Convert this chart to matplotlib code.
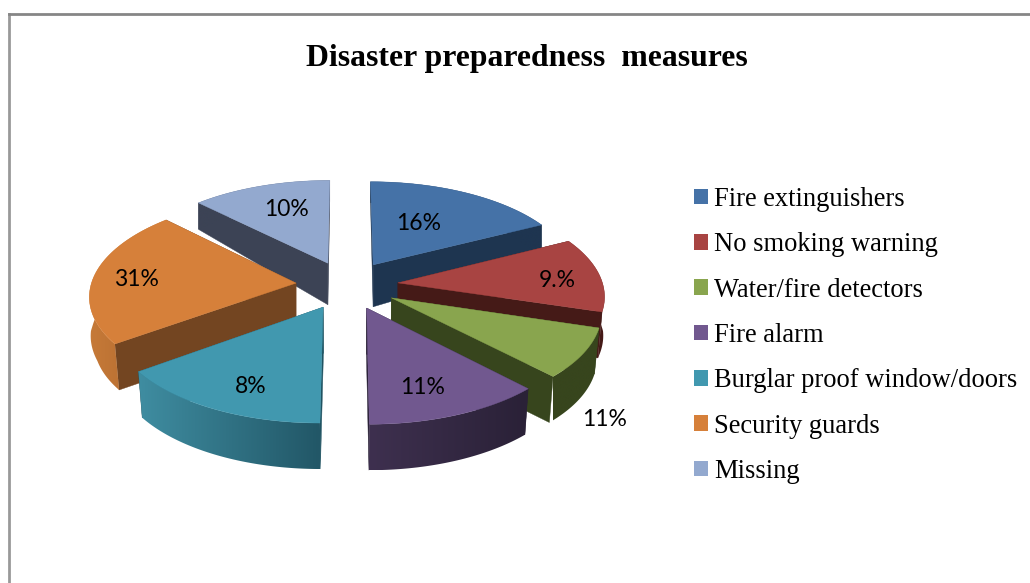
"""Disaster preparedness measures: exploded 3D-look pie, drawn in pixel space."""
import matplotlib
matplotlib.use("Agg")
import matplotlib.pyplot as plt
from matplotlib.colors import to_rgb
from matplotlib.patches import Patch, Polygon
import numpy as np

plt.rcParams["font.family"] = ["Liberation Serif", "DejaVu Serif"]

categories = ["Fire extinguishers", "No smoking warning", "Water/fire detectors",
              "Fire alarm", "Burglar proof window/doors", "Security guards", "Missing"]
# slice sizes as drawn (the printed labels do not match them in the original)
shares = [17.5, 12.2, 8.1, 12.2, 15.0, 22.5, 12.5]
pct_labels = ["16%", "9.%", "11%", "11%", "8%", "31%", "10%"]

top_colors = ["#4572A7", "#A84442", "#89A54E", "#71588F", "#4198AF", "#D6803A", "#93A9CF"]
face_colors = ["#1E3550", "#451A17", "#37451D", "#2A2137", "#1F5362", "#734521", "#3C4355"]
# outer wall colour at its left and right end
wall_left = ["#1E3550", "#451A17", "#37451D", "#3E304F", "#3F8DA1", "#C67A38", "#3C4355"]
wall_right = ["#1E3550", "#451A17", "#37451D", "#2A2137", "#225767", "#AE672E", "#3C4355"]
label_pos = [(419, 224), (557, 281), (605, 420), (423, 388), (251, 387), (136, 280), (286, 210)]
draw_order = [0, 6, 1, 5, 2, 4, 3]  # back to front

# projection of the unit disc onto the page
CX, CY, RX, RY = 347.0, 285.0, 205.0, 97.0
PERSP = 0.115
EXPLODE = 0.25


def project(u, v):
    s = 1.0 / (1.0 + PERSP * v)
    return CX + RX * u * s, CY - RY * v * s


def drop(x, y):
    """Point on the lower rim under a top point."""
    d = np.minimum(46.0, 42.0 - 0.25 * (265.0 - y))
    shrink = 1.0 - 0.018 * np.clip((y - 285.0) / 30.0, 0.0, 1.0)
    return CX + (x - CX) * shrink, y + d


def draw_slice(ax, a0, a1, i):
    mid = (a0 + a1) / 2
    u0, v0 = EXPLODE * np.sin(mid), EXPLODE * np.cos(mid)
    ang = np.linspace(a0, a1, 80)
    x, y = project(u0 + np.sin(ang), v0 + np.cos(ang))
    ax_, ay_ = project(u0, v0)
    bx, by = drop(x, y)
    abx, aby = drop(ax_, ay_)

    for k in (0, -1):
        ax.fill([ax_, x[k], bx[k], abx], [ay_, y[k], by[k], aby],
                color=face_colors[i], lw=0.3, zorder=1)

    # outer wall: horizontal gradient clipped to the rim shape
    wall = Polygon(np.c_[np.r_[x, bx[::-1]], np.r_[y, by[::-1]]], closed=True,
                   facecolor="none", edgecolor="none", zorder=1)
    ax.add_patch(wall)
    c0, c1 = np.array(to_rgb(wall_left[i])), np.array(to_rgb(wall_right[i]))
    grad = np.linspace(0, 1, 200)[:, None]
    strip = (c0 + (c1 - c0) * grad)[None, :, :]
    img = ax.imshow(strip, extent=(x.min(), x.max(), by.max(), y.min()), aspect="auto",
                    interpolation="bilinear", zorder=1)
    img.set_clip_path(wall)

    ax.fill(np.r_[ax_, x], np.r_[ay_, y], color=top_colors[i], lw=0.3, zorder=1)


fig = plt.figure(figsize=(10.3, 5.83), dpi=100)
ax = fig.add_axes([9 / 1030, 0, 1021 / 1030, 569 / 583])

edges = np.radians(np.r_[0, np.cumsum(shares)] * 3.6)
for i in draw_order:
    draw_slice(ax, edges[i], edges[i + 1], i)

ax.set_xlim(9, 1030)
ax.set_ylim(583, 14)
ax.set_aspect("auto")
ax.set_xticks([])
ax.set_yticks([])
for side in ("right", "bottom"):
    ax.spines[side].set_visible(False)
ax.spines["top"].set_color("#868686")
ax.spines["left"].set_color("#999999")
for side in ("top", "left"):
    ax.spines[side].set_linewidth(2.0)

for text, (tx, ty) in zip(pct_labels, label_pos):
    ax.text(tx, ty, text, ha="center", va="center", fontsize=16.5, family="Lato", color="black", zorder=3)

ax.text(527, 58.5, "Disaster preparedness  measures", ha="center", va="center",
        fontsize=22.9, fontweight="bold", color="black")

handles = [Patch(facecolor=c, edgecolor="none", label=n) for c, n in zip(top_colors, categories)]
ax.legend(handles=handles, loc="upper left", bbox_to_anchor=(694 / 1030, 1 - 187 / 583),
          bbox_transform=fig.transFigure, frameon=False, fontsize=19.1, borderpad=0, borderaxespad=0,
          handlelength=0.53, handleheight=0.53, handletextpad=0.23, labelspacing=0.766)

fig.savefig("out.png", dpi=100)
